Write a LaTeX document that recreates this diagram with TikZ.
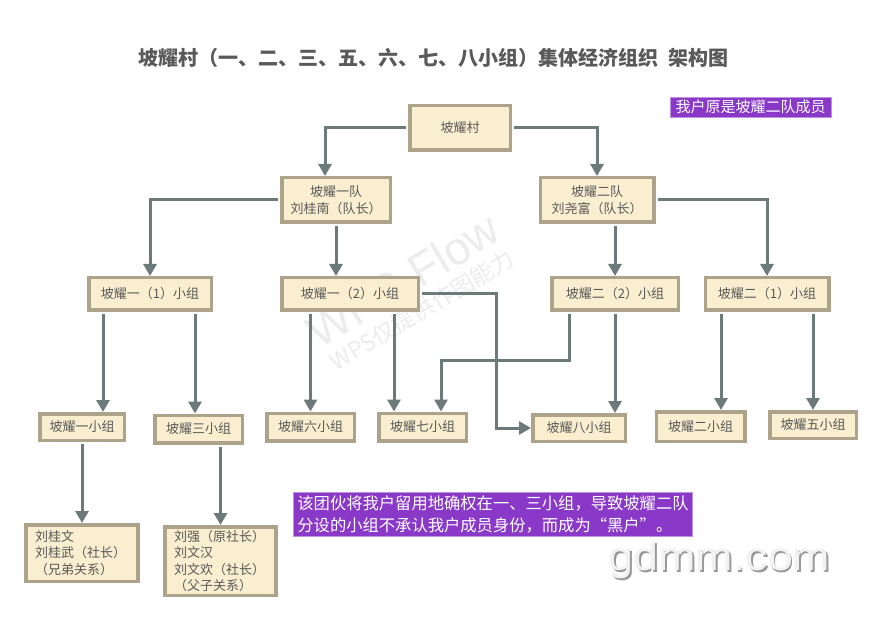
\documentclass[tikz,border=0pt]{standalone}
\usepackage{fontspec}
\setmainfont{Noto Sans CJK SC}
\newfontfamily\latinfont{Liberation Sans}
\usetikzlibrary{arrows.meta}

\tikzset{
  box/.style={draw=wf_edge,line width=3.5pt,fill=wf_fill,text=wf_text,
    font=\fontsize{13}{16.5}\selectfont,inner sep=0pt,align=center},
  wh/.style n args={2}{minimum width=#1,minimum height=#2},
  conn/.style={draw=wf_line,line width=3pt,shorten <=2pt,
    -{Triangle[length=12pt,width=13pt]}},
  note/.style={fill=wf_purple,draw=wf_purple!55!white,line width=0.8pt,
    text=white,align=left}
}

\begin{document}
\begin{tikzpicture}[x=1pt,y=-1pt]

% ------------------------------------------------ wps flow theme colors
\definecolor{wf_fill}{RGB}{249,238,207}   %#F9EECF
\definecolor{wf_edge}{RGB}{173,163,138}   %#ADA38A
\definecolor{wf_line}{RGB}{108,123,121}   %#6C7B79
\definecolor{wf_text}{RGB}{89,89,89}      %#595959
\definecolor{wf_purple}{RGB}{137,56,200}  %#8938C8
\definecolor{wf_mark}{RGB}{236,236,236}   %#ECECEC

\useasboundingbox (0,0) rectangle (878,620);

% ------------------------------------------------ watermarks
\node[text=wf_mark,rotate=31,font=\latinfont\fontsize{46}{46}\selectfont] (wmbig) at (403,280) {WPS Flow};
\node[text=wf_mark,rotate=31,font=\fontsize{23}{23}\selectfont] (wmsmall) at (422,310) {WPS仅提供作图能力};

% ------------------------------------------------ title and notes
\node[text=wf_text,font=\bfseries\fontsize{20}{22}\selectfont] (title) at (433,58)
  {坡耀村（一、二、三、五、六、七、八小组）集体经济组织\hspace{0.5em}架构图};
\node[note,inner sep=1pt,wh={161}{20},font=\fontsize{15}{18}\selectfont] (tag) at (750.5,107) {我户原是坡耀二队成员};
\node[note,inner xsep=4pt,inner ysep=3pt,anchor=north west,font=\fontsize{16.3}{22}\selectfont] (memo) at (293,492)
  {该团伙将我户留用地确权在一、三小组，导致坡耀二队\\分设的小组不承认我户成员身份，而成为“黑户”。};

% ------------------------------------------------ tree
\node[box,wh={100.5}{44.5}] (vil) at (460,128) {坡耀村};

\node[box,wh={108.5}{44.5}] (t1) at (336,200) {坡耀一队\\刘桂南（队长）};
\node[box,wh={113.5}{44.5}] (t2) at (597,200) {坡耀二队\\刘尧富（队长）};

\node[box,wh={122.5}{32.5}] (g11) at (150,294) {坡耀一（1）小组};
\node[box,wh={136.5}{32.5}] (g12) at (350,294) {坡耀一（2）小组};
\node[box,wh={126.5}{32.5}] (g22) at (615,294) {坡耀二（2）小组};
\node[box,wh={123.5}{32.5}] (g21) at (767,294) {坡耀二（1）小组};

\node[box,wh={84.5}{26.5}] (s1) at (82,427)    {坡耀一小组};
\node[box,wh={87.5}{27.5}] (s3) at (198.5,429) {坡耀三小组};
\node[box,wh={87.5}{27.5}] (s6) at (310.5,427) {坡耀六小组};
\node[box,wh={87.5}{27.5}] (s7) at (422.5,427) {坡耀七小组};
\node[box,wh={92.5}{26.5}] (s8) at (579,428)   {坡耀八小组};
\node[box,wh={88.5}{29.5}] (s2) at (700.5,426.5) {坡耀二小组};
\node[box,wh={86.5}{26.5}] (s5) at (813,425)   {坡耀五小组};

\node[box,align=left,text width=94pt,inner xsep=9pt,minimum height=56.5,
  font=\fontsize{13}{16.5}\selectfont] (m1) at (82,553)
  {刘桂文\\刘桂武（社长）\\（兄弟关系）};
\node[box,align=left,text width=93pt,inner xsep=9pt,minimum height=68.5,
  font=\fontsize{13}{16.5}\selectfont] (m3) at (220.5,561)
  {刘强（原社长）\\刘文汉\\刘文欢（社长）\\（父子关系）};

% ------------------------------------------------ connectors
\coordinate (vilL) at ([xshift=-11pt]t1.north);
\coordinate (g11a) at ([xshift=-47pt]g11.south);
\coordinate (g11b) at ([xshift=45pt]g11.south);
\coordinate (g12b) at ([xshift=44pt]g12.south);
\coordinate (bend8) at (496,0);
\coordinate (g22a) at ([xshift=-46pt]g22.south);
\coordinate (s7b) at ([xshift=18.5pt]s7.north);
\coordinate (g21a) at ([xshift=-46pt]g21.south);

\draw[conn] (vil.west) -| (vilL);
\draw[conn] (vil.east) -| (t2.north);
\draw[conn] (t1.west) -| (g11.north);
\draw[conn] (t1.south) -- (t1.south |- g12.north);
\draw[conn] (t2.south -| g22.north) -- (g22.north);
\draw[conn] (t2.east) -| (g21.north);

\draw[conn] (g11a) -- (g11a |- s1.north);
\draw[conn] (g11b) -- (g11b |- s3.north);
\draw[conn] (g12.south -| s6.north) -- (s6.north);
\draw[conn] (g12b) -- (g12b |- s7.north);
\draw[conn] (g12.east) -| (bend8 |- s8.west) -- (s8.west);
\draw[conn] (g22a) -- ++(0,48) -| (s7b);
\draw[conn] (g22.south) -- (g22.south |- s8.north);
\draw[conn] (g21a) -- (g21a |- s2.north);
\draw[conn] (g21.south -| s5.north) -- (s5.north);

\draw[conn] (s1.south) -- (s1.south |- m1.north);
\draw[conn] (s3.south -| m3.north) -- (m3.north);

% ------------------------------------------------ site mark
\node[anchor=base,text=black!40,xscale=1.12,font=\latinfont\fontsize{40}{40}\selectfont] (gdshadow) at (721,572) {gdmm.com};
\node[anchor=base,text=black!5,xscale=1.12,font=\latinfont\fontsize{40}{40}\selectfont] (gdmm) at (719.5,570.5) {gdmm.com};

\end{tikzpicture}
\end{document}
